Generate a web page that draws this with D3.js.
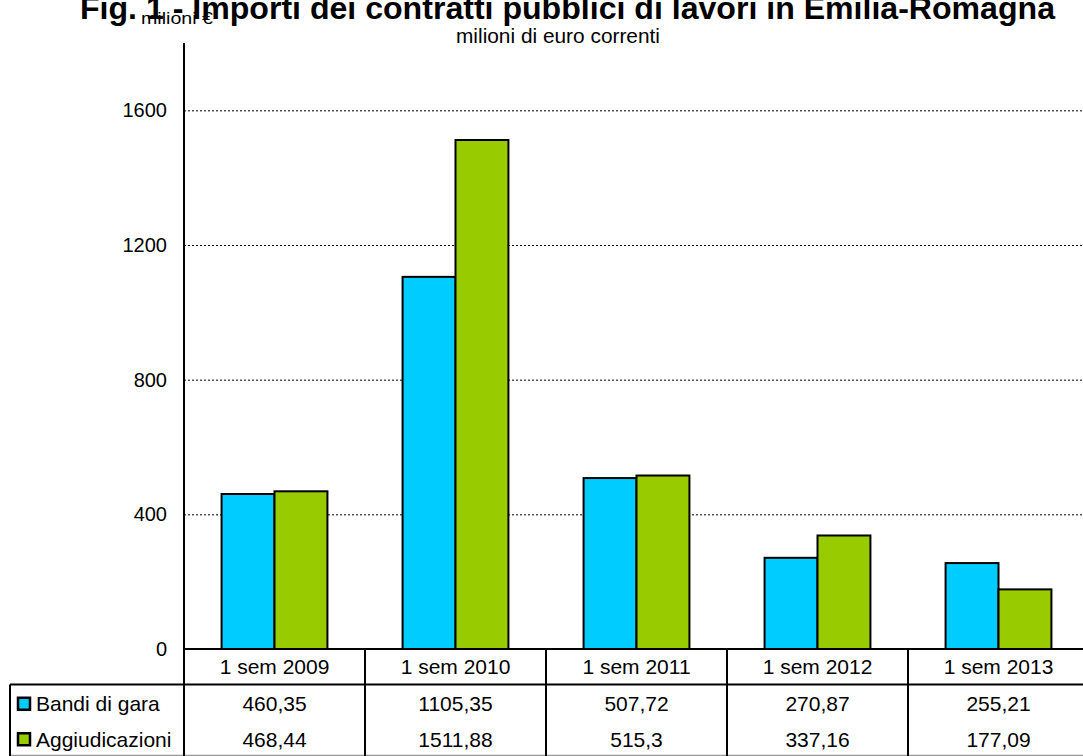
<!DOCTYPE html>
<html>
<head>
<meta charset="utf-8">
<script src="https://cdn.jsdelivr.net/npm/d3@7"></script>
<style>
  body { margin: 0; background: #fff; }
  svg { display: block; font-family: "Liberation Sans", Arial, sans-serif; }
</style>
</head>
<body>
<div id="chart"></div>
<script>
var categories = ['1 sem 2009', '1 sem 2010', '1 sem 2011', '1 sem 2012', '1 sem 2013'];
var seriesNames = ['Bandi di gara', 'Aggiudicazioni'];
var bandi = [460.35, 1105.35, 507.72, 270.87, 255.21];
var aggiudicazioni = [468.44, 1511.88, 515.3, 337.16, 177.09];
var bandiLabels = ['460,35', '1105,35', '507,72', '270,87', '255,21'];
var aggiudicazioniLabels = ['468,44', '1511,88', '515,3', '337,16', '177,09'];
var yTicks = [0, 400, 800, 1200, 1600];
var colors = ['#00ccff', '#99cc00'];

var W = 1083, H = 756;
var plotLeft = 184, catW = 181, plotTop = 43, plotBottom = 649;
var rowH = 35.5;

var svg = d3.select('#chart').append('svg')
  .attr('width', W).attr('height', H);

var x = d3.scaleBand().domain(categories)
  .range([plotLeft, plotLeft + catW * categories.length]).paddingInner(0).paddingOuter(0);
var xs = d3.scaleBand().domain(seriesNames).range([0, x.bandwidth()]).paddingInner(0).paddingOuter(0.71);
var y = d3.scaleLinear().domain([0, 1800]).range([plotBottom, plotTop]);

// grid
svg.append('g').selectAll('line').data(yTicks.slice(1)).enter().append('line')
  .attr('x1', plotLeft).attr('x2', W)
  .attr('y1', function (d) { return y(d) + 0.5; }).attr('y2', function (d) { return y(d) + 0.5; })
  .attr('stroke', '#000').attr('stroke-width', 1).attr('stroke-dasharray', '2,2');

// y axis
var yAxis = svg.append('g').attr('transform', 'translate(' + plotLeft + ',0)')
  .call(d3.axisLeft(y).tickValues(yTicks).tickSize(0).tickPadding(17).tickFormat(d3.format('d')));
yAxis.select('.domain').remove();
yAxis.selectAll('text').attr('font-size', 20).attr('fill', '#000')
  .attr('font-family', '"Liberation Sans", Arial, sans-serif');
svg.append('line').attr('x1', plotLeft).attr('x2', plotLeft).attr('y1', plotTop).attr('y2', plotBottom)
  .attr('stroke', '#000').attr('stroke-width', 2);

// bars
var series = [bandi, aggiudicazioni];
var groups = svg.append('g').selectAll('g').data(series).enter().append('g')
  .attr('fill', function (d, i) { return colors[i]; });
groups.selectAll('rect').data(function (d, i) {
  return d.map(function (v, j) { return { v: v, c: categories[j], s: seriesNames[i] }; });
}).enter().append('rect')
  .attr('x', function (d) { return x(d.c) + xs(d.s); })
  .attr('width', xs.bandwidth())
  .attr('y', function (d) { return y(d.v); })
  .attr('height', function (d) { return y(0) - y(d.v); })
  .attr('stroke', '#000').attr('stroke-width', 2);

// data table
var tbl = svg.append('g');
var tableLeft = 10;
tbl.append('line').attr('x1', plotLeft).attr('x2', W).attr('y1', plotBottom).attr('y2', plotBottom)
  .attr('stroke', '#000').attr('stroke-width', 2);
tbl.append('line').attr('x1', tableLeft).attr('x2', W).attr('y1', plotBottom + rowH).attr('y2', plotBottom + rowH)
  .attr('stroke', '#000').attr('stroke-width', 2);
tbl.append('line').attr('x1', tableLeft).attr('x2', W).attr('y1', plotBottom + rowH * 3).attr('y2', plotBottom + rowH * 3)
  .attr('stroke', '#999').attr('stroke-width', 1.5);
tbl.append('line').attr('x1', tableLeft).attr('x2', tableLeft).attr('y1', plotBottom + rowH).attr('y2', H)
  .attr('stroke', '#000').attr('stroke-width', 2);
tbl.selectAll('.vl').data(categories).enter().append('line')
  .attr('x1', function (d) { return x(d); }).attr('x2', function (d) { return x(d); })
  .attr('y1', plotBottom).attr('y2', H)
  .attr('stroke', '#000').attr('stroke-width', 2);

tbl.selectAll('.cat').data(categories).enter().append('text')
  .attr('x', function (d) { return x(d) + x.bandwidth() / 2; })
  .attr('y', plotBottom + 25)
  .attr('text-anchor', 'middle').attr('font-size', 21).text(function (d) { return d; });

var labels = [bandiLabels, aggiudicazioniLabels];
labels.forEach(function (row, i) {
  var cy = plotBottom + rowH * (i + 1) + rowH / 2;
  tbl.selectAll('.v' + i).data(row).enter().append('text')
    .attr('x', function (d, j) { return x(categories[j]) + x.bandwidth() / 2; })
    .attr('y', cy + 9)
    .attr('text-anchor', 'middle').attr('font-size', 21).text(function (d) { return d; });
  tbl.append('rect').attr('x', 18).attr('y', cy - 4.5).attr('width', 12).attr('height', 12)
    .attr('fill', colors[i]).attr('stroke', '#000').attr('stroke-width', 2.5);
  tbl.append('text').attr('x', 36).attr('y', cy + 9)
    .attr('font-size', 21).text(seriesNames[i]);
});

// titles
svg.append('text').attr('x', 80).attr('y', 19)
  .attr('font-size', 32).attr('font-weight', 'bold')
  .attr('textLength', 975).attr('lengthAdjust', 'spacingAndGlyphs')
  .text('Fig. 1 - Importi dei contratti pubblici di lavori in Emilia-Romagna');
svg.append('text').attr('x', 141).attr('y', 24)
  .attr('font-size', 17).attr('textLength', 72).attr('lengthAdjust', 'spacingAndGlyphs')
  .text('milioni €');
svg.append('text').attr('x', 456).attr('y', 43)
  .attr('font-size', 21).attr('textLength', 204).attr('lengthAdjust', 'spacingAndGlyphs')
  .text('milioni di euro correnti');
</script>
</body>
</html>
